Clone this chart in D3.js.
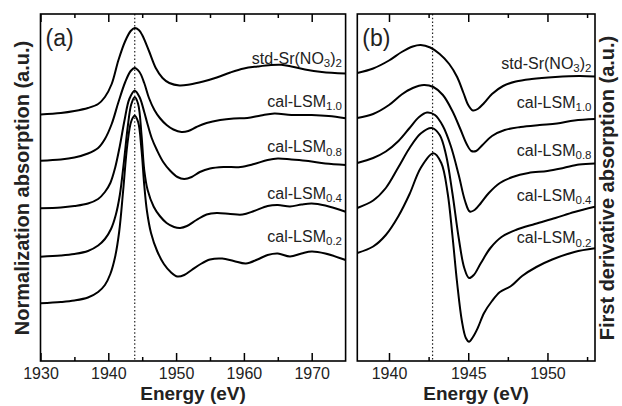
<!DOCTYPE html>
<html lang="en">
<head>
<meta charset="utf-8">
<script src="https://d3js.org/d3.v7.min.js"></script>
<style>
  body { margin: 0; background: #fff; }
  svg { font-family: "Liberation Sans", Arial, sans-serif; }
</style>
</head>
<body>
<div id="my_graph"></div>
<script>
// sample names, top to bottom (odd parts are subscripts)
const names = [
  ["std-Sr(NO", "3", ")", "2"],
  ["cal-LSM", "1.0"],
  ["cal-LSM", "0.8"],
  ["cal-LSM", "0.4"],
  ["cal-LSM", "0.2"]
];

// (a) normalized absorption, [energy eV, a.u. incl. offset]
const stdA = [[1930,24.65],[1933,24.8],[1935,25.0],[1937,25.3],[1938.5,25.7],[1939.5,26.4],[1940.5,27.7],[1941.5,30.1],[1942.5,32.0],[1943.3,33.0],[1943.9,33.3],[1944.5,33.1],[1945,32.6],[1946,31.0],[1947,29.3],[1948,28.3],[1949,27.8],[1950.5,27.55],[1952,27.65],[1954,27.95],[1956,28.35],[1958,28.85],[1960,29.25],[1962,29.45],[1964,29.6],[1965.5,29.62],[1967,29.45],[1969,29.15],[1971.5,28.9],[1975,28.75]];
const lsm10A = [[1930,20.03],[1933,20.15],[1935,20.35],[1937,20.75],[1938.5,21.3],[1939.5,22.2],[1940.5,23.7],[1941.5,25.9],[1942.5,27.9],[1943.3,29.0],[1943.9,29.3],[1944.6,28.9],[1945.3,27.8],[1946,26.3],[1946.8,25.1],[1947.6,24.3],[1948.6,23.6],[1949.6,23.15],[1950.8,22.9],[1951.8,23.0],[1953,23.4],[1954.5,23.8],[1956.5,24.1],[1958.5,24.25],[1960.5,24.3],[1962.5,24.55],[1964.5,24.75],[1967,24.6],[1970,24.6],[1972.5,24.5],[1975,24.27]];
const lsm08A = [[1930,15.27],[1933,15.35],[1935,15.5],[1937,15.75],[1938.5,16.2],[1939.5,16.9],[1940.3,17.8],[1941,19.3],[1941.7,21.5],[1942.4,24.1],[1943.1,26.2],[1943.9,27.03],[1944.6,26.4],[1945.3,24.9],[1945.7,23.9],[1946.4,22.3],[1947.2,21.05],[1948.1,19.9],[1949.1,19.05],[1950.2,18.4],[1951.2,18.2],[1952.3,18.4],[1953.5,18.9],[1955,19.25],[1957,19.4],[1959.5,19.4],[1961.5,19.7],[1963.5,20.1],[1965,20.25],[1967,20.15],[1969.5,20.0],[1972,19.75],[1975,19.6]];
const lsm04A = [[1930,10.43],[1933,10.55],[1935,10.7],[1937,11.0],[1938.5,11.55],[1939.5,12.2],[1940.4,13.2],[1941.1,14.6],[1941.7,16.6],[1942.3,19.9],[1942.9,23.6],[1943.4,25.7],[1943.9,26.37],[1944.4,25.7],[1944.9,22.6],[1945.3,19.1],[1945.8,17.1],[1946.7,15.43],[1947.6,14.5],[1948.6,13.8],[1949.7,13.4],[1950.6,13.3],[1951.6,13.5],[1953,14.1],[1954.5,14.65],[1956,14.8],[1958,14.7],[1959.8,14.65],[1961.5,15.0],[1963.5,15.5],[1965,15.6],[1966.8,15.45],[1968.5,15.65],[1970,15.75],[1972,15.55],[1975,14.93]];
const lsm02A = [[1930,5.77],[1933,5.9],[1935,6.05],[1937,6.35],[1938.5,6.9],[1939.5,7.6],[1940.3,8.7],[1941,10.4],[1941.6,12.9],[1942.2,17.1],[1942.8,21.6],[1943.4,24.0],[1943.9,24.53],[1944.4,23.9],[1944.9,21.1],[1945.3,17.6],[1945.7,15.0],[1946.3,12.8],[1947.2,11.0],[1948.2,9.7],[1949.2,8.9],[1950.2,8.45],[1951.2,8.6],[1952.3,9.1],[1953.5,9.65],[1955,10.15],[1956.8,10.25],[1958.5,10.0],[1960.3,9.75],[1962,10.15],[1963.5,10.6],[1965,10.75],[1966.8,10.45],[1968.5,10.75],[1970,10.95],[1972,10.75],[1975,10.1]];

// (b) first derivative
const stdB = [[1938,28.8],[1939,29.25],[1940,30.05],[1940.8,30.9],[1941.5,31.45],[1942,31.6],[1942.6,31.35],[1943.2,30.7],[1943.8,29.7],[1944.3,28.4],[1944.7,26.8],[1945,25.6],[1945.3,25.05],[1945.6,25.2],[1946,25.8],[1946.5,26.7],[1947.2,27.5],[1948,27.95],[1949,28.2],[1950.5,28.4],[1952,28.5],[1953,28.45]];
const lsm10B = [[1938,24.3],[1939,24.7],[1940,25.6],[1940.8,26.65],[1941.5,27.3],[1942.2,27.6],[1942.8,27.4],[1943.4,26.6],[1944,25.0],[1944.5,23.2],[1944.9,21.7],[1945.2,21.0],[1945.5,21.0],[1945.9,21.6],[1946.5,22.5],[1947.3,23.1],[1948.3,23.4],[1949.5,23.6],[1950.6,23.75],[1951.7,24.05],[1953,24.2]];
const lsm08B = [[1938,19.8],[1939,20.3],[1939.8,20.95],[1940.6,22.0],[1941.3,23.3],[1941.9,24.4],[1942.4,24.85],[1942.9,24.6],[1943.4,23.5],[1943.9,21.5],[1944.4,18.6],[1944.8,16.0],[1945.1,14.95],[1945.4,15.1],[1945.8,15.8],[1946.3,16.8],[1947,17.8],[1947.8,18.4],[1948.8,18.8],[1950,19.0],[1951,19.3],[1952,19.65],[1953,19.75]];
const lsm04B = [[1938,15.3],[1939,16.05],[1939.8,17.3],[1940.6,19.4],[1941.3,21.3],[1942,22.75],[1942.7,23.3],[1943.2,22.6],[1943.6,20.6],[1944,16.8],[1944.4,12.3],[1944.75,9.3],[1945.05,8.3],[1945.35,8.6],[1945.8,9.8],[1946.4,11.3],[1947.1,12.4],[1948,13.1],[1949.2,13.7],[1950.5,14.3],[1951.7,14.9],[1953,15.43]];
const lsm02B = [[1938,10.8],[1939,11.45],[1939.8,12.6],[1940.6,14.5],[1941.3,16.7],[1942,19.3],[1942.8,20.77],[1943.3,19.8],[1943.7,16.8],[1944,12.6],[1944.3,7.8],[1944.6,4.0],[1944.85,2.3],[1945.05,1.93],[1945.3,2.4],[1945.6,3.3],[1946,4.8],[1946.5,6.0],[1947,6.9],[1947.7,7.5],[1948.4,8.5],[1949.3,9.4],[1950.3,10.15],[1951.7,10.9],[1953,11.27]];

const ticksA = [1930, 1940, 1950, 1960, 1970];
const minorA = [1935, 1945, 1955, 1965];
const ticksB = [1940, 1945, 1950];
const minorB = [1942.5, 1947.5, 1952.5];
const edgeA = 1943.9;   // dotted reference line
const edgeB = 1942.75;

const yTop = 14, yBottom = 361;
const W = 622, H = 406;

const svg = d3.select("#my_graph")
  .append("svg")
    .attr("width", W)
    .attr("height", H);

const y = d3.scaleLinear()
  .domain([0, 34.7])
  .range([yBottom, yTop]);

const panels = [
  { tag: "(a)", x0: 40.5, x1: 345.6, domain: [1930, 1975], ticks: ticksA, minor: minorA, edge: edgeA,
    series: [stdA, lsm10A, lsm08A, lsm04A, lsm02A], labelX: 342, labelY: [63.5, 106.5, 152, 198.5, 241.5] },
  { tag: "(b)", x0: 357.3, x1: 595, domain: [1938, 1953], ticks: ticksB, minor: minorB, edge: edgeB,
    series: [stdB, lsm10B, lsm08B, lsm04B, lsm02B], labelX: 591.5, labelY: [68.5, 107.5, 155.5, 200.5, 243] }
];

panels.forEach(function(p, i) {
  const x = d3.scaleLinear().domain(p.domain).range([p.x0, p.x1]);
  const g = svg.append("g");

  g.append("clipPath").attr("id", "clip" + i)
    .append("rect")
      .attr("x", p.x0).attr("y", yTop)
      .attr("width", p.x1 - p.x0).attr("height", yBottom - yTop);

  // bottom axis, ticks pointing in
  const xb = g.append("g")
    .attr("transform", `translate(0,${yBottom})`)
    .call(d3.axisBottom(x).tickValues(p.ticks).tickSizeInner(-8).tickSizeOuter(0).tickPadding(7).tickFormat(d3.format("d")));
  xb.select(".domain").remove();
  xb.selectAll("text")
    .style("font-size", "16px")
    .style("font-family", "Liberation Sans, Arial, sans-serif")
    .attr("fill", "#222");
  xb.selectAll("line").attr("stroke-width", 1.5);

  const xbm = g.append("g")
    .attr("transform", `translate(0,${yBottom})`)
    .call(d3.axisBottom(x).tickValues(p.minor).tickSizeInner(-4).tickSizeOuter(0).tickFormat(""));
  xbm.select(".domain").remove();
  xbm.selectAll("line").attr("stroke-width", 1.5);

  // top axis, same ticks, no labels
  [[p.ticks, -8], [p.minor, -4]].forEach(function(t) {
    const xt = g.append("g")
      .attr("transform", `translate(0,${yTop})`)
      .call(d3.axisTop(x).tickValues(t[0]).tickSizeInner(t[1]).tickSizeOuter(0).tickFormat(""));
    xt.select(".domain").remove();
    xt.selectAll("line").attr("stroke-width", 1.5);
  });

  // dotted reference line
  g.append("line")
    .attr("x1", x(p.edge)).attr("x2", x(p.edge))
    .attr("y1", yTop).attr("y2", yBottom)
    .attr("stroke", "#222")
    .attr("stroke-width", 1.2)
    .attr("stroke-dasharray", "1.5,2.2");

  const line = d3.line()
    .x(d => x(d[0]))
    .y(d => y(d[1]))
    .curve(d3.curveCatmullRom.alpha(0.5));

  g.append("g").attr("clip-path", `url(#clip${i})`)
    .selectAll("path")
    .data(p.series)
    .join("path")
      .attr("d", line)
      .attr("fill", "none")
      .attr("stroke", "#000")
      .attr("stroke-width", 2);

  // frame
  g.append("rect")
    .attr("x", p.x0).attr("y", yTop)
    .attr("width", p.x1 - p.x0).attr("height", yBottom - yTop)
    .attr("fill", "none")
    .attr("stroke", "#000")
    .attr("stroke-width", 1.6);

  // sample labels
  names.forEach(function(parts, k) {
    const t = g.append("text")
      .attr("x", p.labelX)
      .attr("y", p.labelY[k])
      .attr("text-anchor", "end")
      .attr("font-size", 16)
      .attr("fill", "#222");
    parts.forEach(function(s, j) {
      t.append("tspan")
        .attr("font-size", j % 2 ? 11.5 : 16)
        .attr("dy", j === 0 ? 0 : (j % 2 ? 3.5 : -3.5))
        .text(s);
    });
  });

  // panel tag
  g.append("text")
    .attr("x", p.x0 + 5).attr("y", 46)
    .attr("font-size", 23)
    .attr("fill", "#222")
    .text(p.tag);

  // x label
  g.append("text")
    .attr("x", (p.x0 + p.x1) / 2)
    .attr("y", 400)
    .attr("text-anchor", "middle")
    .attr("font-size", 19)
    .attr("font-weight", "bold")
    .attr("fill", "#222")
    .text("Energy (eV)");
});

// y labels
svg.append("text")
  .attr("transform", "translate(28.5,188) rotate(-90)")
  .attr("text-anchor", "middle")
  .attr("font-size", 20)
  .attr("font-weight", "bold")
  .attr("fill", "#222")
  .text("Normalization absorption (a.u.)");

svg.append("text")
  .attr("transform", "translate(614,188) rotate(-90)")
  .attr("text-anchor", "middle")
  .attr("font-size", 20)
  .attr("font-weight", "bold")
  .attr("fill", "#222")
  .text("First derivative absorption (a.u.)");
</script>
</body>
</html>
